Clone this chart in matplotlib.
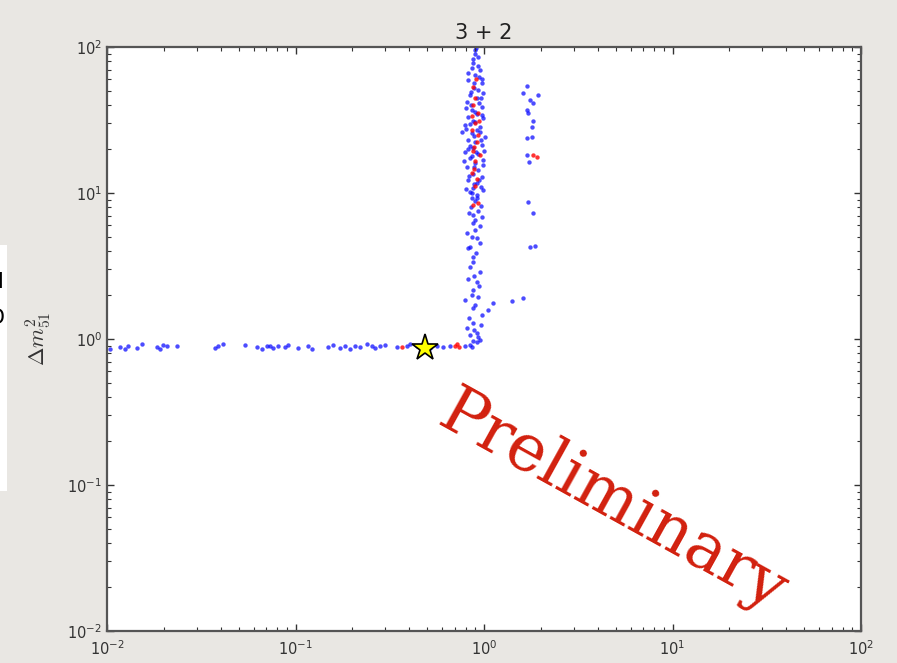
import numpy as np
import matplotlib
matplotlib.use("Agg")
import matplotlib.pyplot as plt
from matplotlib.patches import Rectangle

# puntos (sin2, dm2_51)
banda_horizontal = [
    (0.0104, 0.86), (0.0117, 0.88), (0.0125, 0.85), (0.0129, 0.90), (0.0144, 0.87),
    (0.0153, 0.92), (0.0184, 0.88), (0.0191, 0.86), (0.0198, 0.91), (0.0208, 0.89),
    (0.0235, 0.90), (0.0374, 0.87), (0.0388, 0.89), (0.0412, 0.92), (0.0539, 0.91),
    (0.0625, 0.88), (0.0664, 0.86), (0.0706, 0.89), (0.0732, 0.90), (0.076, 0.87),
    (0.0808, 0.89), (0.0879, 0.88), (0.0912, 0.91), (0.103, 0.87), (0.116, 0.89),
    (0.122, 0.85), (0.149, 0.88), (0.158, 0.91), (0.172, 0.87), (0.183, 0.89),
    (0.195, 0.86), (0.207, 0.90), (0.220, 0.88), (0.239, 0.92), (0.255, 0.89),
    (0.264, 0.87), (0.281, 0.90), (0.298, 0.91), (0.345, 0.88), (0.391, 0.89),
    (0.405, 0.93), (0.441, 0.90), (0.517, 0.87), (0.563, 0.89), (0.606, 0.88),
    (0.660, 0.90), (0.793, 0.89),
]

banda_vertical = [
    (0.896, 95.4), (0.929, 85.5), (0.875, 77.6), (0.953, 69.5), (0.896, 64.2),
    (0.822, 59.4), (0.975, 56.6), (0.929, 50.7), (0.988, 48.4), (0.843, 46.9),
    (0.918, 44.7), (0.813, 42.0), (0.975, 38.8), (0.863, 37.0), (0.822, 33.2),
    (0.988, 32.7), (0.896, 30.6), (0.793, 29.2), (0.953, 28.3), (0.764, 26.2),
    (0.863, 25.8), (1.01, 24.2), (0.822, 23.1), (0.975, 21.3), (0.875, 20.3),
    (0.793, 19.1), (0.843, 17.4), (0.988, 16.8), (0.896, 16.0), (0.813, 15.1),
    (0.929, 14.4), (0.975, 12.9), (0.822, 12.3), (0.918, 11.7), (0.875, 10.8),
    (0.988, 10.5), (0.843, 10.2), (0.863, 10.0), (0.918, 9.25), (0.875, 7.07),
    (0.975, 6.85), (0.875, 6.23), (0.813, 5.33), (0.896, 5.58), (0.918, 4.92),
    (0.953, 4.55), (0.843, 4.27), (0.822, 4.20), (0.875, 3.65), (0.875, 3.37),
    (0.953, 2.88), (0.822, 2.58), (0.918, 2.46), (0.875, 2.17), (0.929, 1.94),
    (0.793, 1.85), (1.12, 1.77), (0.875, 1.63), (1.05, 1.58), (0.975, 1.46),
    (0.875, 1.29), (0.813, 1.19), (0.918, 1.10), (0.843, 1.06), (0.953, 0.984),
    (0.843, 0.91), (0.863, 0.881), (0.918, 0.95),
    (0.90, 90.0), (0.86, 72.0), (0.94, 62.0), (0.88, 52.0), (0.96, 45.0),
    (0.85, 40.0), (0.92, 35.0), (0.87, 31.0), (0.95, 26.0), (0.90, 22.5),
    (0.84, 21.0), (0.93, 18.5), (0.87, 13.5), (0.96, 11.0), (0.90, 8.8),
    (0.85, 8.0), (0.93, 7.5), (0.80, 27.5), (1.00, 19.5), (0.78, 16.5),
    (0.91, 98.0), (0.87, 83.0), (0.93, 74.0), (0.82, 66.0), (0.98, 60.0),
    (0.89, 57.0), (0.85, 49.0), (0.94, 41.5), (0.80, 38.0), (0.90, 36.0),
    (0.97, 34.0), (0.84, 29.8), (0.92, 27.0), (0.88, 24.5), (0.96, 23.0),
    (0.82, 20.0), (0.91, 19.0), (0.86, 18.0), (0.99, 15.5), (0.88, 15.0),
    (0.83, 13.0), (0.94, 12.2), (0.89, 11.5), (0.80, 10.6), (0.92, 9.7),
    (0.86, 9.3), (0.96, 8.2), (0.83, 7.3), (0.90, 6.5), (0.95, 5.9),
    (0.86, 5.0), (0.91, 3.9), (0.84, 3.1), (0.89, 2.7), (0.94, 2.3),
    (0.86, 2.0), (0.90, 1.7), (0.83, 1.4), (0.96, 1.25), (0.89, 1.15),
    (0.93, 1.03), (0.87, 0.97),
]

banda_derecha = [
    (1.69, 54.0), (1.61, 48.4), (1.94, 46.9), (1.75, 43.4), (1.82, 41.3),
    (1.69, 37.0), (1.71, 35.3), (1.82, 31.1), (1.80, 28.3), (1.69, 23.8),
    (1.80, 24.2), (1.69, 18.2), (1.73, 16.3), (1.71, 8.67), (1.82, 7.29),
    (1.75, 4.27), (1.87, 4.33), (1.41, 1.82), (1.61, 1.91),
]

puntos_rojos = [
    (0.875, 53.2), (0.875, 40.1), (0.929, 35.3), (0.863, 33.5), (0.896, 30.0),
    (0.929, 25.0), (0.918, 22.3), (0.88, 20.8), (0.953, 18.2), (0.90, 16.5),
    (0.863, 13.7), (0.90, 11.2), (0.875, 8.28), (0.929, 8.55),
    (0.90, 45.0), (0.86, 27.0), (0.94, 31.0), (0.89, 14.5), (0.92, 12.5),
    (0.87, 19.5), (0.91, 60.0),
    (1.82, 18.2), (1.91, 17.6),
    (0.367, 0.88), (0.70, 0.89), (0.74, 0.88), (0.719, 0.92),
]

mejor_ajuste = (0.486, 0.87)

azules = np.array(banda_horizontal + banda_vertical + banda_derecha)
rojos = np.array(puntos_rojos)

plt.rcParams['mathtext.fontset'] = 'cm'

fig = plt.figure(figsize=(8.97, 6.63), dpi=100)
fig.patch.set_facecolor('#e9e7e3')
ax = fig.add_axes([0.1193, 0.0483, 0.8406, 0.8808])
ax.set_facecolor('white')

ax.scatter(azules[:, 0], azules[:, 1], s=10, color='blue', alpha=0.7, lw=0)
ax.scatter(rojos[:, 0], rojos[:, 1], s=10, color='red', alpha=0.8, lw=0)
ax.plot(*mejor_ajuste, marker='*', ms=20, mfc='yellow', mec='black', mew=1.2)

ax.set_xscale('log')
ax.set_yscale('log')
ax.set_xlim(1e-2, 1e2)
ax.set_ylim(1e-2, 1e2)

ax.tick_params(which='both', direction='in', top=True, right=True,
               colors='#333333', labelsize=10.5)
ax.tick_params(axis='x', pad=6)
ax.tick_params(which='major', length=5, width=1)
ax.tick_params(which='minor', length=3, width=0.8)
for s in ax.spines.values():
    s.set_linewidth(1.6)
    s.set_color('#555555')

ax.set_title("3 + 2", fontsize=15, color='#222222', pad=6)
ax.set_ylabel(r"$\Delta m^2_{51}$", fontsize=16, color='#333333', labelpad=10)

ax.text(0.67, 0.22, "Preliminary", transform=ax.transAxes, rotation=-29,
        rotation_mode='anchor', ha='center', va='center',
        fontsize=47, color='#d2200e', family='DejaVu Serif')

# trozo de la diapositiva que se ve a la izquierda
fig.patches.append(Rectangle((0, 0.26), 7 / 897, 0.37, transform=fig.transFigure,
                             facecolor='white', edgecolor='none'))
fig.text(0.004, 0.575, "l", ha='right', va='center', fontsize=15)
fig.text(0.006, 0.52, "D", ha='right', va='center', fontsize=15)

plt.savefig("out.png", dpi=100, facecolor=fig.get_facecolor())
